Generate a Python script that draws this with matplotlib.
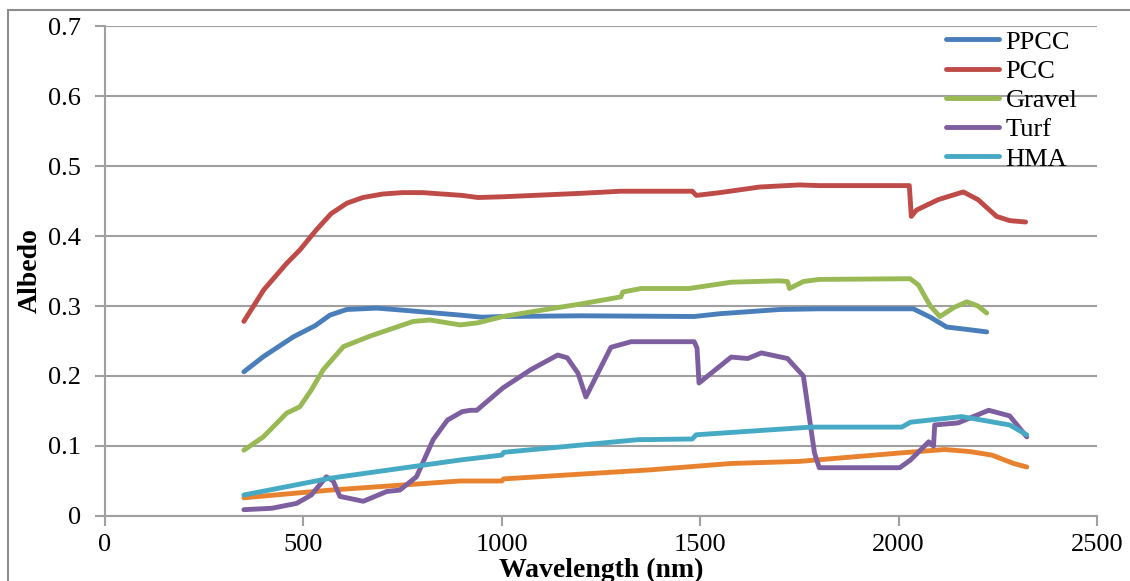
import matplotlib.pyplot as plt
from matplotlib.patches import Rectangle
from matplotlib.ticker import FuncFormatter

plt.rcParams['font.family'] = ['Liberation Serif', 'DejaVu Serif']

# spectral albedo
ppcc_x = [350, 400, 475, 530, 567, 609, 685, 751, 895, 950, 1000, 1200,
          1485, 1550, 1700, 1800, 2000, 2037, 2080, 2121, 2180, 2222]
ppcc_y = [0.206, 0.228, 0.256, 0.272, 0.287, 0.295, 0.297, 0.294, 0.287,
          0.284, 0.285, 0.286, 0.285, 0.289, 0.295, 0.296, 0.296, 0.296,
          0.284, 0.270, 0.266, 0.263]

pcc_x = [350, 400, 458, 491, 533, 570, 610, 650, 700, 750, 800, 900, 940, 1000,
         1200, 1300, 1480, 1490, 1550, 1650, 1750, 1800, 2000, 2027, 2032, 2045,
         2100, 2163, 2200, 2247, 2280, 2320]
pcc_y = [0.278, 0.323, 0.361, 0.380, 0.409, 0.432, 0.447, 0.455, 0.460, 0.462,
         0.462, 0.458, 0.455, 0.456, 0.461, 0.464, 0.464, 0.458, 0.462, 0.470,
         0.473, 0.472, 0.472, 0.472, 0.428, 0.437, 0.452, 0.463, 0.452, 0.428,
         0.422, 0.420]

gravel_x = [350, 399, 458, 491, 520, 550, 601, 668, 777, 819, 895, 940, 1003,
            1100, 1200, 1300, 1305, 1351, 1472, 1578, 1700, 1720, 1725, 1760,
            1800, 2029, 2050, 2080, 2104, 2140, 2172, 2200, 2222]
gravel_y = [0.094, 0.113, 0.147, 0.156, 0.180, 0.209, 0.242, 0.257, 0.278, 0.280,
            0.273, 0.276, 0.285, 0.294, 0.303, 0.313, 0.320, 0.325, 0.325, 0.334,
            0.336, 0.335, 0.325, 0.335, 0.338, 0.339, 0.330, 0.300, 0.285, 0.298,
            0.306, 0.300, 0.290]

turf_x = [350, 420, 483, 520, 558, 575, 592, 651, 710, 743, 785, 827, 863,
          900, 921, 937, 1003, 1073, 1141, 1165, 1192, 1212, 1242, 1275, 1326,
          1485, 1492, 1497, 1578, 1620, 1654, 1720, 1760, 1788, 1800, 2003,
          2030, 2076, 2088, 2091, 2150, 2227, 2280, 2323]
turf_y = [0.009, 0.011, 0.018, 0.030, 0.056, 0.050, 0.028, 0.021, 0.035, 0.037,
          0.056, 0.109, 0.137, 0.149, 0.151, 0.151, 0.183, 0.209, 0.230, 0.226,
          0.204, 0.170, 0.204, 0.241, 0.249, 0.249, 0.240, 0.190, 0.227, 0.225,
          0.233, 0.225, 0.200, 0.090, 0.069, 0.069, 0.080, 0.106, 0.100, 0.130,
          0.133, 0.151, 0.143, 0.113]

hma_x = [350, 568, 895, 1000, 1005, 1343, 1480, 1490, 1780, 2008, 2030, 2159,
         2220, 2280, 2323]
hma_y = [0.030, 0.054, 0.080, 0.087, 0.091, 0.109, 0.110, 0.116, 0.127, 0.127,
         0.134, 0.142, 0.136, 0.130, 0.116]

other_x = [350, 568, 895, 1000, 1005, 1376, 1578, 1750, 2003, 2116, 2180, 2235,
           2290, 2323]
other_y = [0.026, 0.037, 0.050, 0.050, 0.053, 0.066, 0.075, 0.078, 0.090, 0.095,
           0.092, 0.087, 0.075, 0.070]

series = [
    ("PPCC", ppcc_x, ppcc_y, "#4a7ebb"),
    ("PCC", pcc_x, pcc_y, "#be4b48"),
    ("Gravel", gravel_x, gravel_y, "#98b954"),
    ("Turf", turf_x, turf_y, "#7d5fa0"),
    ("HMA", hma_x, hma_y, "#46aac5"),
]

fig = plt.figure(figsize=(11.3, 5.81), dpi=100)
ax = fig.add_axes([0.0929, 0.1119, 0.8779, 0.8433])

# chart-area border (left and top visible)
fig.patches.append(Rectangle((0.007, -0.2), 1.2, 1.183, transform=fig.transFigure,
                             fill=False, edgecolor="#8c8c8c", linewidth=1.5))

ax.plot(other_x, other_y, color="#e8822f", lw=3.5, solid_capstyle="round")
for name, xs, ys, c in series:
    ax.plot(xs, ys, color=c, lw=3.5, label=name, solid_capstyle="round",
            solid_joinstyle="round")

ax.set_xlim(0, 2500)
ax.set_ylim(0, 0.7)
ax.set_xticks(range(0, 2501, 500))
ax.set_yticks([i / 10 for i in range(8)])
ax.yaxis.set_major_formatter(FuncFormatter(lambda v, p: "0" if v == 0 else f"{v:.1f}"))
ax.grid(axis="y", color="#a0a0a0", lw=1.5)
ax.set_axisbelow(True)
for s in ["top", "right"]:
    ax.spines[s].set_visible(False)
for s in ["left", "bottom"]:
    ax.spines[s].set_color("#a0a0a0")
    ax.spines[s].set_linewidth(1.5)
ax.tick_params(colors="#a0a0a0", labelcolor="black", labelsize=19,
               width=1.5, length=7)
ax.tick_params(axis="y", pad=10)
ax.tick_params(axis="x", pad=6)

ax.set_xlabel("Wavelength (nm)", fontsize=20, fontweight="bold", labelpad=1)
ax.set_ylabel("Albedo", fontsize=20, fontweight="bold", labelpad=4)

ax.legend(loc="upper left", bbox_to_anchor=(0.832, 1.024), frameon=False,
          fontsize=19, handlelength=2.0, handletextpad=0.25, labelspacing=0.22,
          borderaxespad=0.2)

fig.savefig("out.png", dpi=100)
